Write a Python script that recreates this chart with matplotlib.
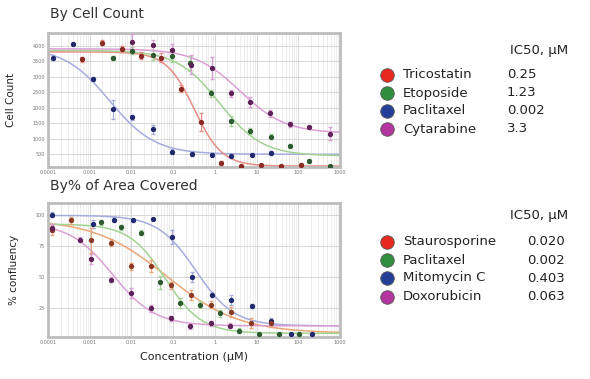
import numpy as np
import matplotlib
matplotlib.use('Agg')
import matplotlib.pyplot as plt
from matplotlib.ticker import FixedLocator, FixedFormatter, LogLocator, NullFormatter

#%% datos

ticks_x = [1e-4, 1e-3, 1e-2, 1e-1, 1, 10, 100, 1000]
etiquetas_x = ['0.0001', '0.001', '0.01', '0.1', '1', '10', '100', '1000']

# --- By Cell Count ---
ticks_cc = [500, 1000, 1500, 2000, 2500, 3000, 3500, 4000]

conc_paclitaxel_cc = [1.29e-4, 3.9e-4, 1.17e-3, 3.6e-3, 0.0105, 0.032, 0.095, 0.28, 0.85, 2.5, 7.6, 21.9]
cc_paclitaxel = [3620, 4050, 2930, 1950, 1690, 1310, 580, 510, 490, 440, 490, 545]
err_paclitaxel_cc = [80, 40, 60, 300, 90, 150, 80, 60, 60, 40, 50, 60]

conc_tricostatin = [6.6e-4, 2.0e-3, 6.0e-3, 0.0174, 0.052, 0.158, 0.457, 1.38, 4.17, 12.6, 38, 117]
cc_tricostatin = [3570, 4100, 3890, 3680, 3610, 2620, 1545, 220, 125, 160, 125, 155]
err_tricostatin = [80, 90, 100, 120, 150, 100, 300, 60, 40, 40, 40, 50]

conc_etoposide = [3.6e-3, 0.0105, 0.032, 0.095, 0.26, 0.79, 2.4, 6.9, 21.9, 63, 182, 575]
cc_etoposide = [3600, 3840, 3700, 3667, 3430, 2462, 1577, 1255, 1061, 770, 285, 125]
err_etoposide = [60, 120, 150, 200, 250, 120, 150, 100, 80, 60, 50, 40]

conc_cytarabine = [0.0105, 0.032, 0.095, 0.275, 0.85, 2.5, 6.9, 20.9, 63, 182, 575]
cc_cytarabine = [4130, 4022, 3870, 3390, 3280, 2462, 2190, 1816, 1470, 1364, 1170]
err_cytarabine = [250, 150, 180, 300, 350, 100, 150, 100, 80, 60, 200]

# parametros de las curvas (arriba, abajo, IC50, pendiente)
fit_tricostatin = (3800, 120, 0.32, 1.3)
fit_etoposide = (3850, 450, 1.3, 0.85)
fit_paclitaxel_cc = (3950, 500, 0.003, 0.8)
fit_cytarabine = (3900, 1180, 4.0, 0.8)

# --- By % of Area Covered ---
ticks_conf = [25, 50, 75, 100]

conc_stauro = [1.23e-4, 3.55e-4, 1.07e-3, 3.2e-3, 0.01, 0.030, 0.091, 0.275, 0.83, 2.5, 7.2, 21.9]
conf_stauro = [88.5, 96, 80, 78, 59, 59, 43.7, 35.7, 28, 22, 13.4, 13]
err_stauro = [4, 3, 10, 3, 3, 5, 3, 4, 3, 4, 4, 3]

conc_paclitaxel_conf = [1.82e-3, 5.5e-3, 0.0166, 0.048, 0.145, 0.437, 1.32, 3.7, 11.5, 34.7, 105]
conf_paclitaxel = [94.6, 90.5, 86, 46, 29.5, 28, 21, 7, 4.3, 4.3, 4.3]
err_paclitaxel_conf = [2, 2, 2, 5, 4, 3, 3, 2, 1, 1, 1]

conc_mitomycin = [1.23e-4, 1.17e-3, 3.8e-3, 0.011, 0.033, 0.095, 0.29, 0.86, 2.5, 7.6, 21.9, 66, 209]
conf_mitomycin = [100.5, 93, 96.5, 96, 97, 82.6, 50.4, 36, 32, 27, 14.6, 4.3, 4.3]
err_mitomycin = [2, 3, 2, 1, 1, 6, 4, 2, 4, 2, 3, 1, 1]

conc_doxo = [1.23e-4, 5.9e-4, 1.07e-3, 3.2e-3, 0.01, 0.030, 0.087, 0.26, 0.79, 2.3]
conf_doxo = [90, 80.5, 65, 48, 37.5, 25, 17, 10.8, 13, 11]
err_doxo = [3, 2, 4, 2, 4, 3, 2, 2, 2, 2]

fit_stauro = (97, 5, 0.07, 0.5)
fit_paclitaxel_conf = (93, 5, 0.065, 1.0)
fit_mitomycin = (100, 11, 0.35, 0.95)
fit_doxo = (94, 11, 0.0035, 0.85)

# leyendas
farmacos_cc = ['Tricostatin', 'Etoposide', 'Paclitaxel', 'Cytarabine']
ic50_cc = ['0.25', '1.23', '0.002', '3.3']
farmacos_conf = ['Staurosporine', 'Paclitaxel', 'Mitomycin C', 'Doxorubicin']
ic50_conf = ['0.020', '0.002', '0.403', '0.063']

#%% colores
rojo = ('#e8291f', '#e88e84', '#8a2a24')
verde = ('#2f8f3f', '#a3d394', '#2d5a30')
azul = ('#233f98', '#a7acdf', '#20286e')
magenta = ('#b3359f', '#dca0d6', '#5e2258')
naranja = ('#e8291f', '#eba678', '#8a3a24')

def hill(x, arriba, abajo, ic50, n):
    return abajo + (arriba - abajo) / (1 + (x / ic50) ** n)

def preparar_ejes(ax, yticks, ylim):
    ax.set_xscale('log')
    ax.set_xlim(1e-4, 1000)
    ax.set_ylim(*ylim)
    ax.xaxis.set_major_locator(FixedLocator(ticks_x))
    ax.xaxis.set_major_formatter(FixedFormatter(etiquetas_x))
    ax.xaxis.set_minor_locator(LogLocator(base=10, subs=np.arange(2, 10)))
    ax.xaxis.set_minor_formatter(NullFormatter())
    ax.set_yticks(yticks)
    ax.grid(which='major', axis='both', color='#d2d2d2', lw=0.6)
    ax.grid(which='minor', axis='x', color='#e6e6e6', lw=0.5)
    ax.tick_params(which='both', length=0, labelsize=3.5, labelcolor='#777777', pad=2)
    for s in ax.spines.values():
        s.set_color('#bdbdbd')
        s.set_linewidth(2)
    ax.set_axisbelow(True)

def serie(ax, conc, vals, errs, fit, col):
    grilla = np.logspace(-4, 3, 300)
    ax.plot(grilla, hill(grilla, *fit), color=col[1], lw=1.1, zorder=2)
    ax.errorbar(conc, vals, yerr=errs, fmt='o', ms=2.8, color=col[2],
                ecolor=col[1], elinewidth=0.8, capsize=1.2, zorder=3)

fig = plt.figure(figsize=(5.9, 3.79), dpi=100)

ax1 = fig.add_axes([48/590, 1 - 167/379, 292/590, 134/379])
preparar_ejes(ax1, ticks_cc, (90, 4410))
serie(ax1, conc_paclitaxel_cc, cc_paclitaxel, err_paclitaxel_cc, fit_paclitaxel_cc, azul)
serie(ax1, conc_tricostatin, cc_tricostatin, err_tricostatin, fit_tricostatin, rojo)
serie(ax1, conc_etoposide, cc_etoposide, err_etoposide, fit_etoposide, verde)
serie(ax1, conc_cytarabine, cc_cytarabine, err_cytarabine, fit_cytarabine, magenta)
ax1.set_ylabel('Cell Count', fontsize=7.5, color='#222222', labelpad=12)

ax2 = fig.add_axes([48/590, 1 - 337/379, 292/590, 134/379])
preparar_ejes(ax2, ticks_conf, (2, 110))
serie(ax2, conc_mitomycin, conf_mitomycin, err_mitomycin, fit_mitomycin, azul)
serie(ax2, conc_stauro, conf_stauro, err_stauro, fit_stauro, naranja)
serie(ax2, conc_paclitaxel_conf, conf_paclitaxel, err_paclitaxel_conf, fit_paclitaxel_conf, verde)
serie(ax2, conc_doxo, conf_doxo, err_doxo, fit_doxo, magenta)
ax2.set_ylabel('% confluency', fontsize=7.5, color='#222222', labelpad=12)
ax2.set_xlabel('Concentration (µM)', fontsize=8, color='#222222', labelpad=5)

# titulos y leyendas en coordenadas de pixel
lay = fig.add_axes([0, 0, 1, 1], zorder=-1)
lay.set_xlim(0, 590)
lay.set_ylim(379, 0)
lay.axis('off')

lay.text(50, 14, 'By Cell Count', fontsize=10, color='#333333', va='center')
lay.text(50, 186, 'By% of Area Covered', fontsize=10, color='#333333', va='center')

def leyenda(y0, filas, nombres, valores, colores, xval):
    lay.text(568, y0, 'IC50, µM', fontsize=9.5, color='#222222', ha='right', va='center')
    for yy, nom, val, c in zip(filas, nombres, valores, colores):
        lay.scatter([386.7], [yy], s=95, color=c[0], edgecolor='#555555', lw=0.6)
        lay.text(403, yy, nom, fontsize=9.5, color='#222222', va='center')
        lay.text(xval, yy, val, fontsize=9.5, color='#222222', va='center')

leyenda(50.5, [75, 93, 111, 129], farmacos_cc, ic50_cc, [rojo, verde, azul, magenta], 507)
leyenda(215, [241.5, 260, 278, 296.5], farmacos_conf, ic50_conf, [rojo, verde, azul, magenta], 527)

fig.savefig('out.png', dpi=100)
